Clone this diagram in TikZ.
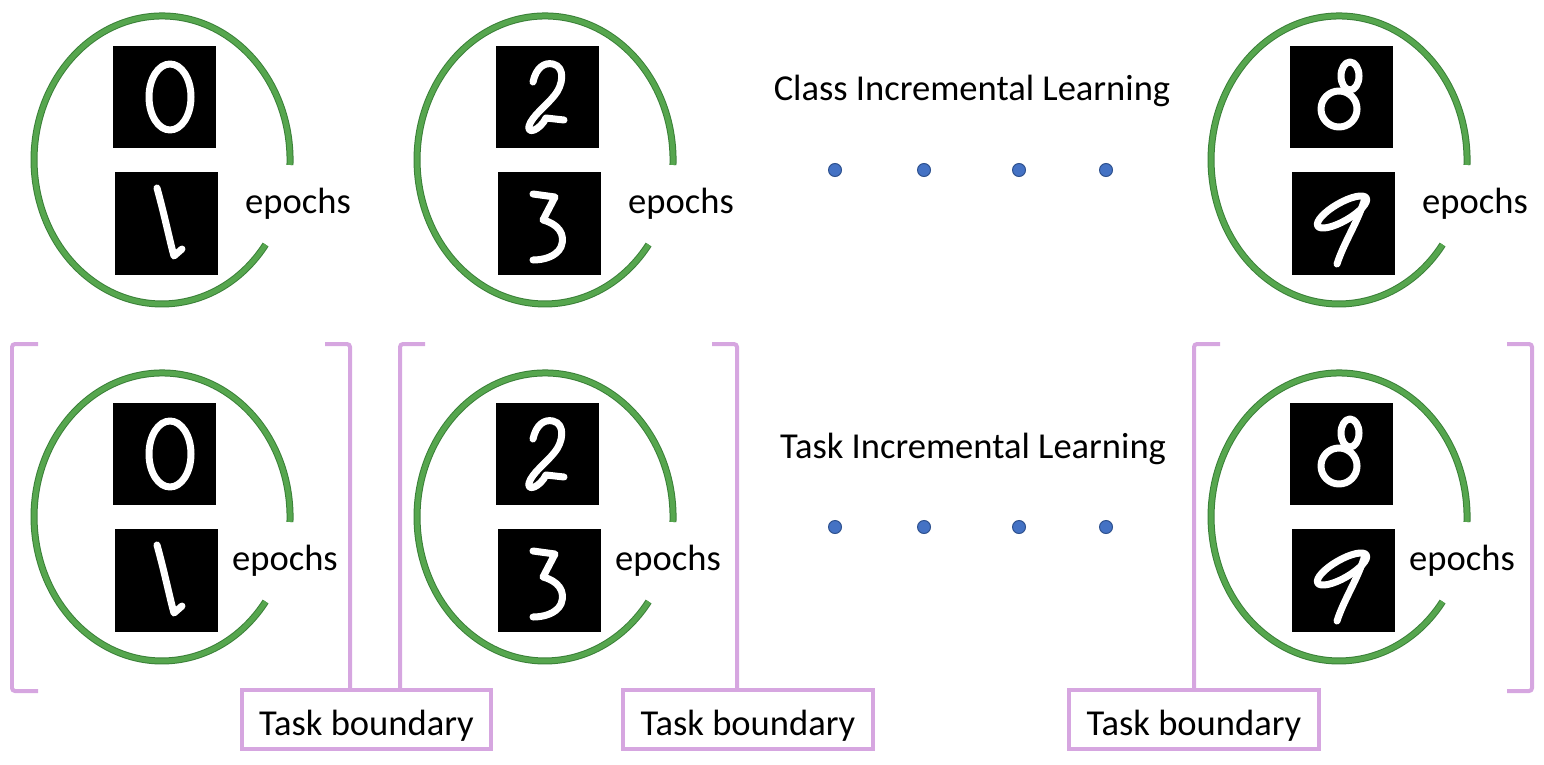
\documentclass[tikz,border=0pt]{standalone}
\usepackage{fontspec}
\setmainfont{Carlito}
\usetikzlibrary{calc}

\definecolor{arcgreen}{RGB}{86,166,78}
\definecolor{arcedge}{RGB}{58,128,56}
\definecolor{tbviolet}{RGB}{214,166,224}
\definecolor{dotblue}{RGB}{68,114,196}
\definecolor{dotedge}{RGB}{47,82,143}

\begin{document}
\begin{tikzpicture}[x=0.02cm, y=-0.02cm,
    every node/.style={font=\fontsize{20.8pt}{25pt}\selectfont},
    digit/.style={white, line width=0.14cm, line cap=round, line join=round},
    epocharc/.style={draw=arcedge, line width=0.02cm, double=arcgreen, double distance=0.1cm},
    bracket/.style={draw=tbviolet, line width=0.08cm, rounded corners=0.06cm},
    tbox/.style={draw=tbviolet, line width=0.08cm, minimum width=5.0cm, minimum height=1.18cm,
      inner sep=0pt, text height=0.72cm, text depth=0.1cm},
    dotmark/.style={fill=dotblue, draw=dotedge, line width=0.02cm}]

  \useasboundingbox (0,0) rectangle (1544,764);

  % 参数: 每个数字的笔画 (局部坐标, 图块 103 x 102)
  \def\dzero{\draw[digit] (57,51) ellipse[x radius=21, y radius=33];}
  \def\done{\draw[digit] (42,16) .. controls (50,45) and (55,70) .. (59,84) -- (67,77);}
  \def\dtwo{\draw[digit] (37,36) .. controls (40,22) and (48,16) .. (57,18)
      .. controls (70,21) and (67,40) .. (58,50) .. controls (50,60) and (36,70) .. (33,80)
      .. controls (31,89) and (44,84) .. (50,72) -- (68,74);}
  \def\dthree{\draw[digit] (35,22) -- (57,25) -- (45,48) .. controls (60,52) and (68,62) .. (63,75)
      .. controls (58,85) and (45,88) .. (35,88);}
  \def\deight{\draw[digit] (60,30) ellipse[x radius=9, y radius=14];
      \draw[digit] (49,63) ellipse[x radius=18, y radius=18];}
  \def\dnine{\draw[digit, rotate around={30:(50,40)}] (50,40) ellipse[x radius=28, y radius=9];
      \draw[digit] (73,26) .. controls (66,50) and (52,70) .. (45,92);}

  % ---- 两行: 上为 Class, 下为 Task ----
  \foreach \gy/\ex/\row in {0/239/1, 357/226/2} {
    \foreach \gx/\da/\db/\i in {0/\dzero/\done/1, 383/\dtwo/\dthree/2, 1177/\deight/\dnine/3} {
      \begin{scope}[shift={(\gx,\gy)}]
        % 两张图块
        \fill[black] (113,46) rectangle (216,148);
        \fill[black] (115,172) rectangle (218,275);
        \begin{scope}[shift={(113,46)}] \da \end{scope}
        \begin{scope}[shift={(115,172)}] \db \end{scope}
        % 开口的圆弧
        \draw[epocharc] (265.6,244.6) arc[start angle=36, end angle=362, x radius=128, y radius=144];
        \node[anchor=base west] (ep\row\i) at (\ex,213) {epochs};
      \end{scope}
    }
  }

  % 标题
  \node[anchor=base] (cil) at (972,100) {Class Incremental Learning};
  \node[anchor=base] (til) at (973,458) {Task Incremental Learning};

  % 省略号
  \foreach \dx in {835,924,1019,1106} {
    \filldraw[dotmark] (\dx,170) circle[radius=6.5];
    \filldraw[dotmark] (\dx,527) circle[radius=6.5];
  }

  % ---- 任务边界 ----
  \node[tbox] (tb1) at (366.5,719.5) {Task boundary};
  \node[tbox] (tb2) at (748,719.5) {Task boundary};
  \node[tbox] (tb3) at (1194,719.5) {Task boundary};

  \coordinate (br1) at (350,344);
  \coordinate (bl2) at (400,344);
  \coordinate (br2) at (737,344);
  \coordinate (bl3) at (1194,344);

  \draw[bracket] (38,344) -- (12,344) -- (12,691) -- (38,691);
  \draw[bracket] (325,344) -- (br1) -- (br1 |- tb1.north);
  \draw[bracket] (425,344) -- (bl2) -- (bl2 |- tb1.north);
  \draw[bracket] (712,344) -- (br2) -- (br2 |- tb2.north);
  \draw[bracket] (1220,344) -- (bl3) -- (bl3 |- tb3.north);
  \draw[bracket] (1507,344) -- (1532,344) -- (1532,691) -- (1507,691);

\end{tikzpicture}
\end{document}
